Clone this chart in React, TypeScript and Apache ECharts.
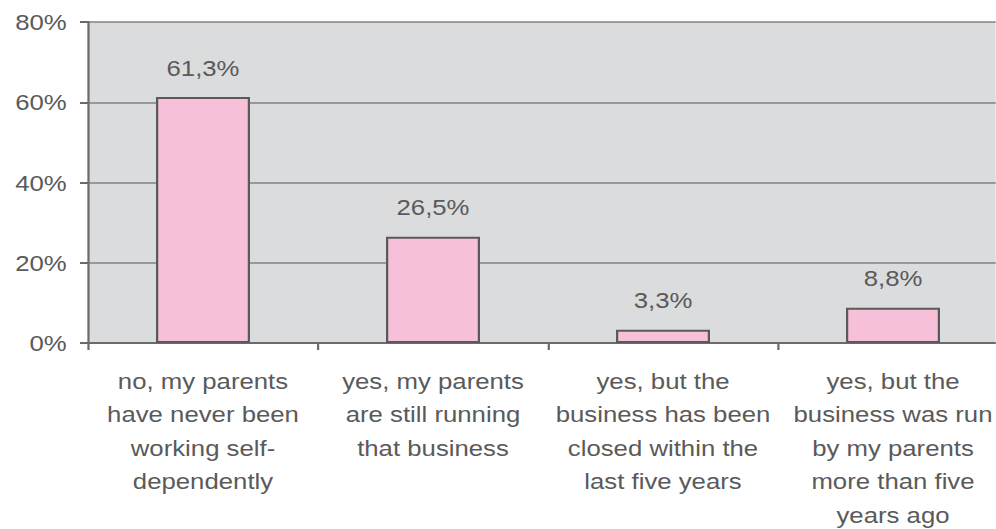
import React, { useEffect, useRef } from "react";
import * as echarts from "echarts";

const categories = [
  "no, my parents\nhave never been\nworking self-\ndependently",
  "yes, my parents\nare still running\nthat business",
  "yes, but the\nbusiness has been\nclosed within the\nlast five years",
  "yes, but the\nbusiness was run\nby my parents\nmore than five\nyears ago",
];
const values = [61.3, 26.5, 3.3, 8.8];
const yTicks = { min: 0, max: 80, interval: 20 };

// The reference text is horizontally stretched; render narrower and stretch.
const SX = 1.12;
const PAGE_W = 996;
const PAGE_H = 529;

export default function App() {
  const ref = useRef<HTMLDivElement>(null);
  useEffect(() => {
    document.body.style.margin = "0";
    const chart = echarts.init(ref.current!, null, { renderer: "svg" });
    const textColor = "#5a5a5a";
    const font = "Liberation Sans, Arial, sans-serif";
    chart.setOption({
      animation: false,
      backgroundColor: "#ffffff",
      grid: {
        left: 88 / SX,
        top: 22,
        width: 920 / SX,
        height: 321,
        show: true,
        backgroundColor: "#dbdcde",
        borderWidth: 0,
        outerBoundsMode: "none",
        containLabel: false,
      },
      xAxis: {
        type: "category",
        data: categories,
        axisLine: { show: true, lineStyle: { color: "#6b6b6b", width: 2 } },
        axisTick: { show: true, length: 7, interval: 0, lineStyle: { color: "#6b6b6b", width: 2 } },
        axisLabel: {
          interval: 0,
          margin: 21,
          color: textColor,
          fontFamily: font,
          fontSize: 23,
          lineHeight: 33.5,
          align: "center",
        },
      },
      yAxis: {
        type: "value",
        min: yTicks.min,
        max: yTicks.max,
        interval: yTicks.interval,
        axisLine: { show: true, lineStyle: { color: "#6b6b6b", width: 2 } },
        axisTick: { show: true, length: 8 / SX, lineStyle: { color: "#6b6b6b", width: 2 } },
        splitLine: { show: true, lineStyle: { color: "#828282", width: 1.6 } },
        axisLabel: {
          formatter: "{value}%",
          margin: 19,
          color: textColor,
          fontFamily: font,
          fontSize: 23,
        },
      },
      series: [
        {
          type: "bar",
          data: values,
          barWidth: 94 / SX,
          itemStyle: { color: "#f7c0d9", borderColor: "#5a5a5a", borderWidth: 2 },
          label: {
            show: true,
            position: "top",
            distance: 18,
            color: textColor,
            fontFamily: font,
            fontSize: 23,
            formatter: (p: any) => p.value.toFixed(1).replace(".", ",") + "%",
          },
        },
      ],
    });
    return () => chart.dispose();
  }, []);
  return (
    <div
      style={{
        position: "absolute",
        left: 0,
        top: 0,
        width: PAGE_W,
        height: PAGE_H,
        overflow: "hidden",
      }}
    >
      <div
        ref={ref}
        style={{
          width: PAGE_W / SX,
          height: PAGE_H,
          transform: `scaleX(${SX})`,
          transformOrigin: "0 0",
        }}
      />
    </div>
  );
}
